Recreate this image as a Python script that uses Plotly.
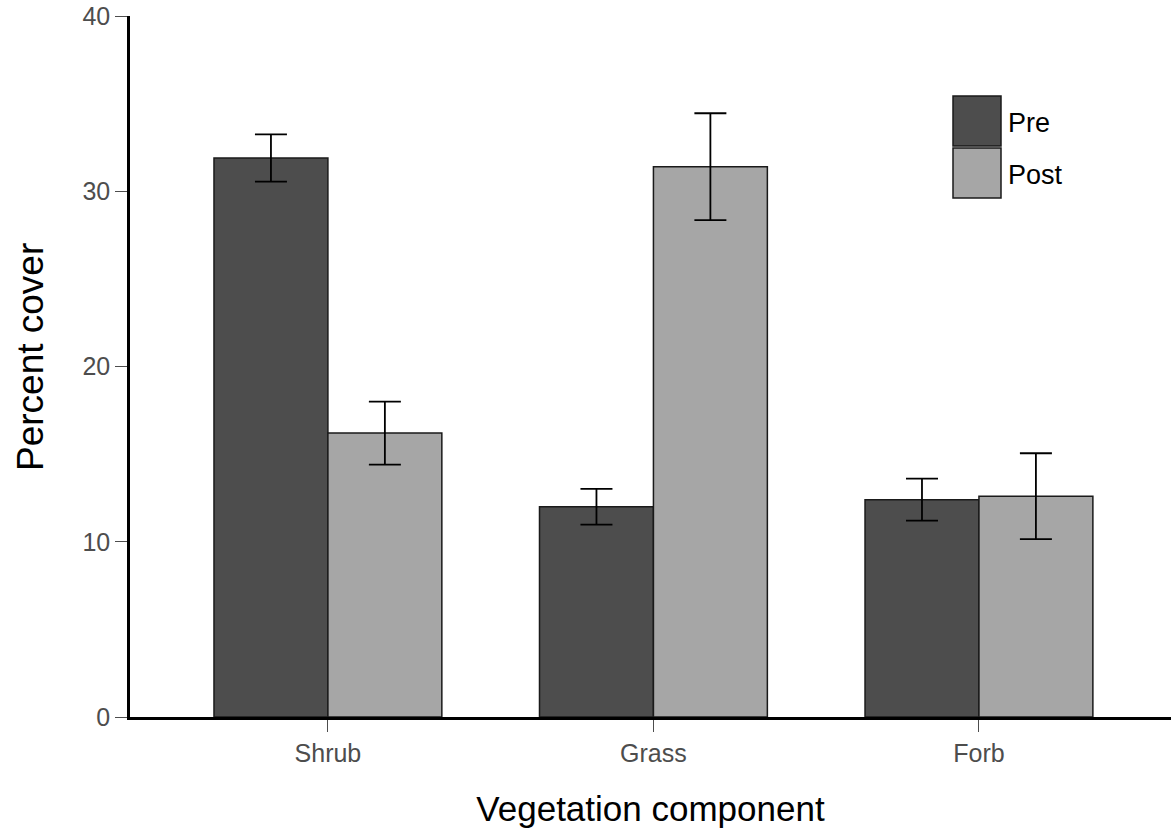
import plotly.graph_objects as go

categories = ["Shrub", "Grass", "Forb"]
pre_values = [31.9, 12.0, 12.4]
pre_se = [1.35, 1.02, 1.2]
post_values = [16.2, 31.4, 12.6]
post_se = [1.8, 3.05, 2.45]
y_ticks = [0, 10, 20, 30, 40]
series_names = ["Pre", "Post"]
series_colors = ["#4d4d4d", "#a6a6a6"]

fig = go.Figure()
for name, vals, se, col in [
    (series_names[0], pre_values, pre_se, series_colors[0]),
    (series_names[1], post_values, post_se, series_colors[1]),
]:
    fig.add_trace(go.Bar(
        x=categories, y=vals, name=name,
        marker=dict(color=col, line=dict(color="#1a1a1a", width=1.5)),
        error_y=dict(type="data", array=se, visible=True, color="black",
                     thickness=1.8, width=16),
        showlegend=False,
    ))

# legend drawn as boxes + labels
L, R, T, B = 130, 1171, 16, 717
W, H = R - L, B - T
def px(x): return (x - L) / W
def py(y): return (B - y) / H
boxes = [(96, 146), (148, 198)]
for (y0, y1), name, col in zip(boxes, series_names, series_colors):
    fig.add_shape(type="rect", xref="paper", yref="paper",
                  x0=px(953), x1=px(1001), y0=py(y1), y1=py(y0),
                  fillcolor=col, line=dict(color="#1a1a1a", width=1.5))
    fig.add_annotation(xref="paper", yref="paper", x=px(1006), y=py((y0 + y1) / 2 + 2),
                       text=name, showarrow=False, xanchor="left", yanchor="middle",
                       font=dict(size=27, color="black"))

# y-axis title placed as rotated text
fig.add_annotation(xref="paper", yref="paper", x=px(30), y=py(357), text="Percent cover",
                   textangle=-90, showarrow=False, xanchor="center", yanchor="middle",
                   font=dict(size=37, color="black"))

fig.update_layout(
    width=1171, height=836,
    margin=dict(l=L, r=0, t=T, b=836 - B, autoexpand=False),
    paper_bgcolor="white", plot_bgcolor="white",
    barmode="group", bargap=0.3, bargroupgap=0,
    font=dict(family="Liberation Sans, Arial, sans-serif"),
    xaxis=dict(
        range=[-0.608, 2.59], showgrid=False, showline=True, linecolor="black", linewidth=2.5,
        ticks="outside", ticklen=12, tickwidth=1.2, tickcolor="#4d4d4d",
        tickfont=dict(size=25, color="#4d4d4d"),
        title=dict(text="Vegetation component", font=dict(size=35, color="black"), standoff=31),
        automargin=False, zeroline=False,
    ),
    yaxis=dict(
        range=[0, 40], tickvals=y_ticks, showgrid=False, showline=True, linecolor="black", linewidth=2.5,
        ticks="outside", ticklen=12, tickwidth=1.2, tickcolor="#4d4d4d",
        tickfont=dict(size=25, color="#4d4d4d"),
        automargin=False, zeroline=False,
    ),
)

fig.write_html("out.html")
